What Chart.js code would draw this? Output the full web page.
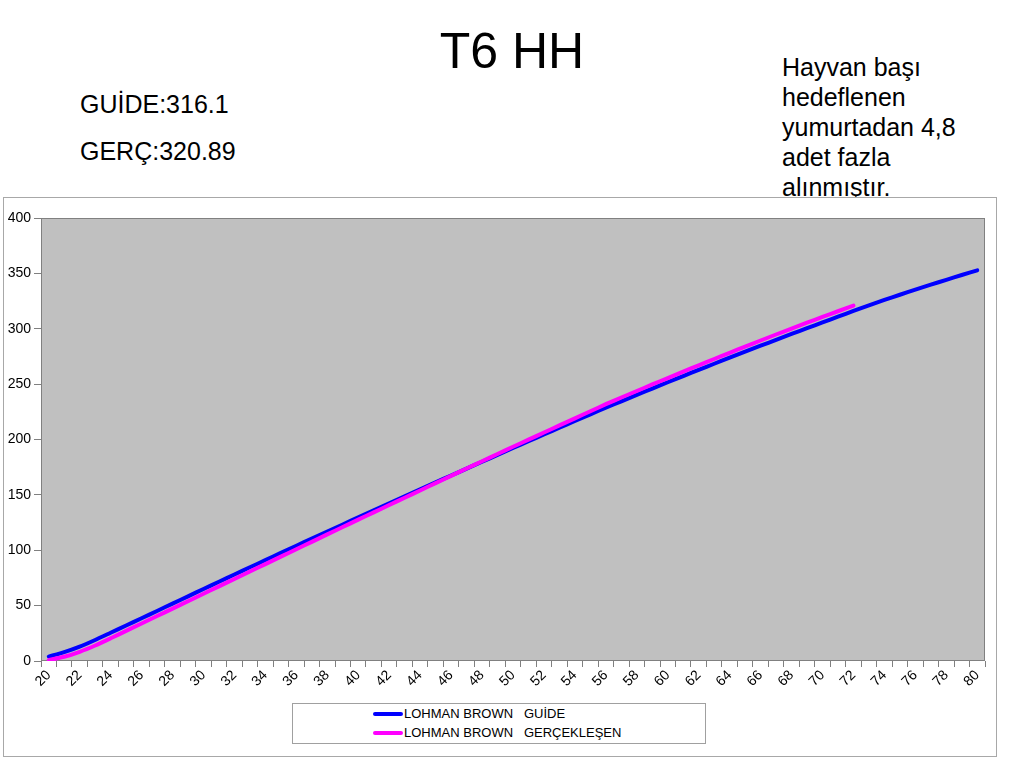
<!DOCTYPE html>
<html>
<head>
<meta charset="utf-8">
<script src="https://cdn.jsdelivr.net/npm/chart.js@4.4.1/dist/chart.umd.min.js"></script>
<style>
  body { margin: 0; width: 1024px; height: 768px; background: #fff; position: relative; overflow: hidden;
         font-family: "Liberation Sans", Arial, sans-serif; color: #000; }
  .title { position: absolute; left: 0; width: 1024px; top: 26px; text-align: center; font-size: 50px; line-height: 50px; }
  .note { position: absolute; font-size: 25px; line-height: 29.3px; white-space: nowrap; }
  .box { position: absolute; left: 3px; top: 197px; width: 992px; height: 558px; border: 1px solid #a8a8a8;
         background: #fff; z-index: 2; }
  .box canvas { position: absolute; left: 0; top: 0; }
  .legend { position: absolute; left: 288px; top: 505px; width: 412px; height: 39px; border: 1px solid #a0a0a0;
            background: #fff; font-size: 13px; }
  .legend .item { position: absolute; left: 80px; height: 16px; line-height: 16px; white-space: pre; }
  .legend .swatch { display: inline-block; width: 30px; height: 4px; border-radius: 2px; vertical-align: middle;
                    margin-right: 1px; position: relative; top: -1px; }
</style>
</head>
<body>
<div class="title">T6 HH</div>
<div class="note" style="left:80px; top:90px;">GUİDE:316.1</div>
<div class="note" style="left:80px; top:137px;">GERÇ:320.89</div>
<div class="note" style="left:782px; top:52px; line-height:30px;">Hayvan başı<br>hedeflenen<br>yumurtadan 4,8<br>adet fazla<br>alınmıştır.</div>

<div class="box">
  <canvas id="chart" width="992" height="558"></canvas>
  <div class="legend" id="legend"></div>
</div>

<script>
// weeks of age 20..80
const weeks = [20, 21, 22, 23, 24, 25, 26, 27, 28, 29, 30, 31, 32, 33, 34, 35, 36, 37, 38, 39, 40,
  41, 42, 43, 44, 45, 46, 47, 48, 49, 50, 51, 52, 53, 54, 55, 56, 57, 58, 59, 60,
  61, 62, 63, 64, 65, 66, 67, 68, 69, 70, 71, 72, 73, 74, 75, 76, 77, 78, 79, 80];

// cumulative eggs per hen housed, guide
const guide = [4, 8, 13, 19, 25.5, 32, 38.6, 45.2, 51.8, 58.4, 65, 71.6, 78.1, 84.6, 91.1, 97.6, 104.1, 110.5, 116.9, 123.3, 129.7,
  136.1, 142.4, 148.7, 155, 161.3, 167.5, 173.7, 179.9, 186.1, 192.3, 198.4, 204.5, 210.6, 216.7, 222.7, 228.7, 234.5, 240.3, 246, 251.7,
  257.3, 262.9, 268.4, 273.9, 279.3, 284.7, 290, 295.3, 300.5, 305.7, 310.9, 316.1, 321.1, 326, 330.7, 335.3, 339.8, 344.2, 348.5, 352.7];

// cumulative eggs per hen housed, actual (up to week 72)
const actual = [0.8, 3.8, 8.3, 14, 20.5, 27.2, 33.9, 40.6, 47.3, 54, 60.7, 67.4, 74.1, 80.8, 87.5, 94.2, 100.9, 107.6, 114.3, 121, 127.6,
  134.2, 140.8, 147.4, 154, 160.6, 167.2, 173.8, 180.4, 186.9, 193.4, 199.9, 206.3, 212.7, 219.1, 225.5, 231.9, 237.9, 243.8, 249.7, 255.5,
  261.3, 267, 272.7, 278.3, 283.9, 289.4, 294.8, 300.2, 305.5, 310.7, 315.8, 320.89, null, null, null, null, null, null, null, null];

const seriesNames = ['LOHMAN BROWN   GUİDE', 'LOHMAN BROWN   GERÇEKLEŞEN'];
const seriesColors = ['#0000ff', '#ff00ff'];

const yTicks = [0, 50, 100, 150, 200, 250, 300, 350, 400];

// grey plot area with a dark frame
const plotFrame = {
  id: 'plotFrame',
  beforeDraw(chart) {
    const a = chart.chartArea, ctx = chart.ctx;
    ctx.save();
    ctx.fillStyle = '#c0c0c0';
    ctx.fillRect(a.left, a.top, a.right - a.left, a.bottom - a.top);
    ctx.restore();
  },
  beforeDatasetsDraw(chart) {
    const a = chart.chartArea, ctx = chart.ctx;
    ctx.save();
    ctx.strokeStyle = '#808080';
    ctx.lineWidth = 1;
    ctx.strokeRect(Math.round(a.left) + 0.5, Math.round(a.top) + 0.5,
      Math.round(a.right - a.left) - 1, Math.round(a.bottom - a.top) - 1);
    ctx.restore();
  }
};

const chart = new Chart(document.getElementById('chart'), {
  type: 'line',
  data: {
    labels: weeks,
    datasets: [
      { label: seriesNames[0], data: guide, borderColor: seriesColors[0], order: 1 },
      { label: seriesNames[1], data: actual, borderColor: seriesColors[1], order: 0 }
    ]
  },
  options: {
    responsive: false,
    animation: false,
    layout: { padding: { left: 0, top: 20, right: 11, bottom: 55 } },
    elements: {
      point: { radius: 0 },
      line: { borderWidth: 4, tension: 0.2, borderCapStyle: 'round', fill: false }
    },
    plugins: { legend: { display: false }, tooltip: { enabled: false } },
    scales: {
      x: {
        offset: true,
        grid: { drawOnChartArea: false, drawTicks: true, tickLength: 6, color: '#808080', offset: true },
        border: { display: false },
        ticks: {
          autoSkip: false, minRotation: 45, maxRotation: 45, padding: 0,
          color: '#000', font: { family: 'Liberation Sans', size: 14 },
          callback: (v, i) => (i % 2 === 0 ? String(weeks[i]) : '')
        },
        afterFit: (s) => { s.height = 40; }
      },
      y: {
        min: 0, max: 400,
        afterBuildTicks: (s) => { s.ticks = yTicks.map(v => ({ value: v })); },
        grid: { drawOnChartArea: false, drawTicks: true, tickLength: 7, color: '#808080' },
        border: { display: false },
        ticks: { padding: 3, color: '#000', font: { family: 'Liberation Sans', size: 14 } },
        afterFit: (s) => { s.width = 37; }
      }
    }
  },
  plugins: [plotFrame]
});

// legend stacked vertically, built from the datasets
const legend = document.getElementById('legend');
chart.data.datasets.forEach((ds, i) => {
  const item = document.createElement('div');
  item.className = 'item';
  item.style.top = (2 + i * 19) + 'px';
  const sw = document.createElement('span');
  sw.className = 'swatch';
  sw.style.background = ds.borderColor;
  item.appendChild(sw);
  item.appendChild(document.createTextNode(ds.label));
  legend.appendChild(item);
});
</script>
</body>
</html>
